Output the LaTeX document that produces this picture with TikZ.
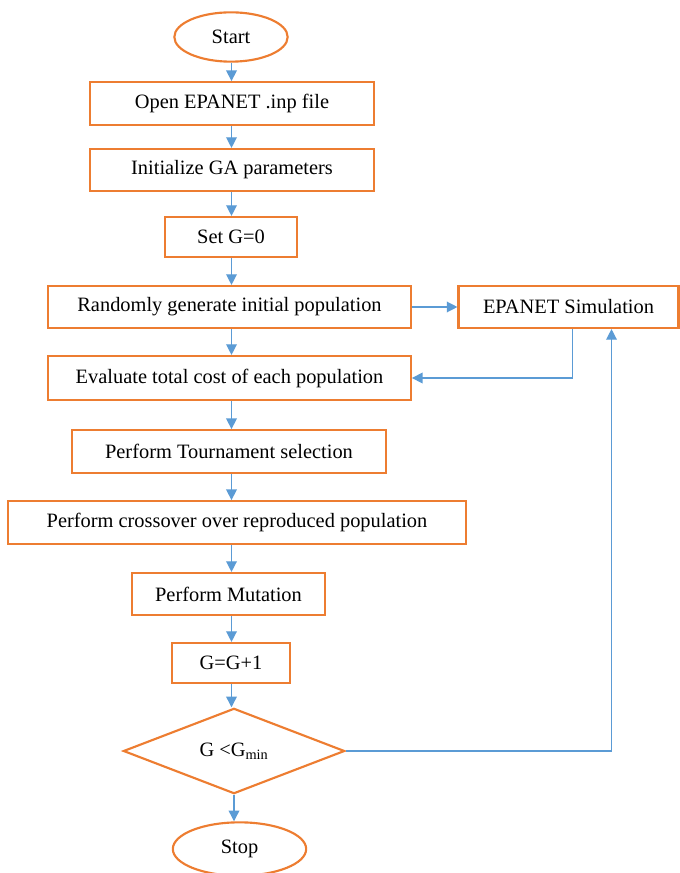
\documentclass[tikz,border=0pt]{standalone}
\usepackage{fontspec}
\setmainfont{Liberation Serif}
\usepackage{xcolor}
\definecolor{cOrange}{HTML}{ED7D31}
\definecolor{cBlue}{HTML}{5B9BD5}
\usepackage{tikz}
\usetikzlibrary{positioning,arrows.meta,shapes.geometric,calc}
\tikzset{
  node-box/.style={draw=cOrange,line width=1.6pt,inner sep=0pt,
    align=center,font=\fontsize{15.3}{18}\selectfont},
  node-term/.style={node-box,ellipse},
  node-dec/.style={node-box,diamond},
  arrow/.style={-{Triangle[length=8pt,width=8pt]},line width=1pt,draw=cBlue},
}
\begin{document}
\begin{tikzpicture}[x=0.75pt,y=-0.75pt]
  \useasboundingbox (0,0) rectangle (680,873);
  % main column
  \node[node-term,minimum width=85pt,minimum height=37pt] (start) at (231,37) {Start};
  \node[node-box,minimum width=213pt,minimum height=32pt] (open) at (232,103.5) {Open EPANET .inp file};
  \node[node-box,minimum width=213pt,minimum height=31.5pt] (init) at (232,170) {Initialize GA parameters};
  \node[node-box,minimum width=99pt,minimum height=30pt] (setg) at (231,237) {Set G=0};
  \node[node-box,minimum width=272pt,minimum height=31.5pt] (rand) at (229.5,307) {Randomly generate initial population};
  \node[node-box,minimum width=165pt,minimum height=31.5pt] (sim) at (568.5,307) {EPANET Simulation};
  \node[node-box,minimum width=272pt,minimum height=33pt] (eval) at (229.5,378) {Evaluate total cost of each population};
  \node[node-box,minimum width=235pt,minimum height=32pt] (tour) at (229,451.5) {Perform Tournament selection};
  \node[node-box,minimum width=343pt,minimum height=32pt] (cross) at (237,522.5) {Perform crossover over reproduced population};
  \node[node-box,minimum width=145pt,minimum height=31.5pt] (mut) at (228.5,594) {Perform Mutation};
  \node[node-box,minimum width=88pt,minimum height=30pt] (inc) at (231,663) {G=G+1};
  \node[node-dec,minimum width=166pt,minimum height=63pt] (dec) at (234,751) {G <G\textsubscript{min}};
  \node[node-term,minimum width=100pt,minimum height=40pt] (stop) at (239.5,849) {Stop};
  \coordinate (spine) at (231.5,0);
  \foreach \a/\b in {start/open, open/init, init/setg, setg/rand, rand/eval, eval/tour,
    tour/cross, cross/mut, mut/inc, inc/dec}
    \draw[arrow] (\a.south -| spine) -- (\b.north -| spine);
  \draw[arrow] (dec) -- (dec |- stop.north);
  % simulation loop
  \draw[arrow] (rand) -- (sim);
  \draw[arrow] ([xshift=3pt]sim.south) |- (eval);
  \draw[arrow] (dec) -| ($(sim.south)+(43,0)$);
\end{tikzpicture}
\end{document}
